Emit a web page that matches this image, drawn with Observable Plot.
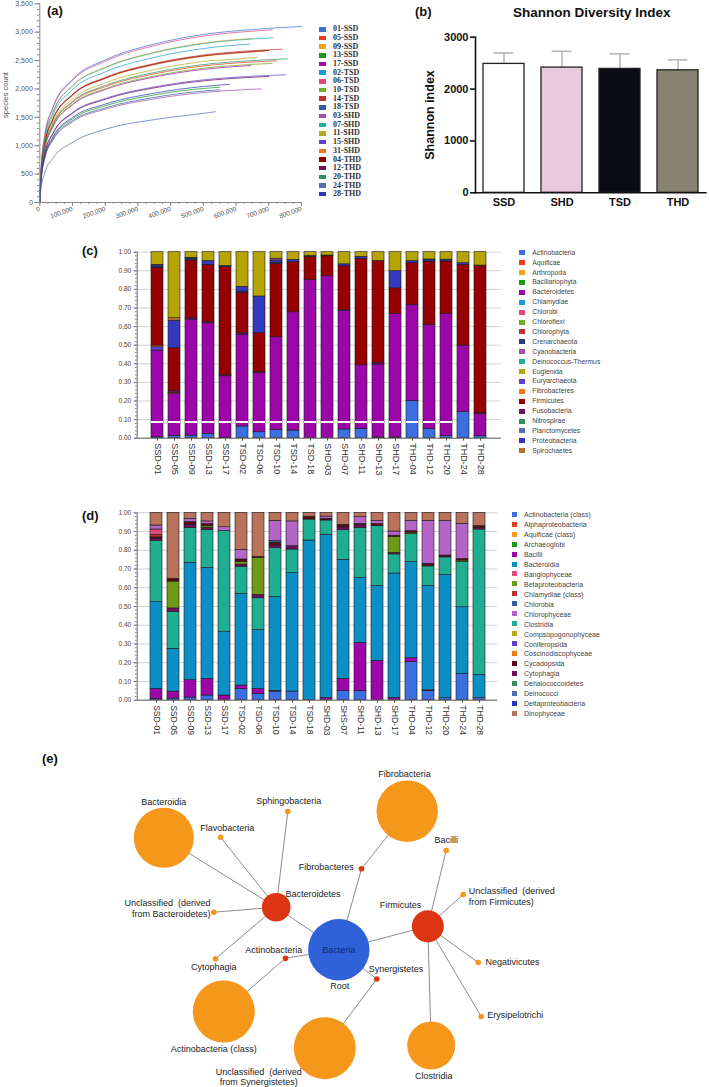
<!DOCTYPE html>
<html><head><meta charset="utf-8">
<script src="https://cdn.jsdelivr.net/npm/d3@7"></script>
<script src="https://cdn.jsdelivr.net/npm/@observablehq/plot@0.6"></script>
<style>
body{margin:0;background:#fff;}
#root{position:relative;width:709px;height:1087px;overflow:hidden;font-family:"Liberation Sans",Arial,sans-serif;background:#fff;}
</style></head><body><div id="root"></div>
<script>
// ---------------- DATA ----------------
// (a) rarefaction
const samples = ["01-SSD","05-SSD","09-SSD","13-SSD","17-SSD","02-TSD","06-TSD","10-TSD","14-TSD","18-TSD","03-SHD","07-SHD","11-SHD","15-SHD","31-SHD","04-THD","12-THD","20-THD","24-THD","28-THD"];
const sampleColors = ["#3a6fd8","#e8401c","#f5a01a","#1a9a1a","#a010a8","#1aa0d0","#e04880","#70b020","#c03030","#3060a0","#a050a8","#20b0a0","#b8a820","#6040d0","#f07818","#900000","#701060","#309060","#5070b0","#2838b8"];
const rareX = [0, 3000, 15000, 40000, 100000, 200000, 350000, 500000, 650000];
const rareEndX = [800000,724000,650000,550000,644000,642000,711000,710000,741000,550000,677000,714000,665000,751000,690000,700000,700000,757000,537000,580000];
const r01SSD = [0,496,1178,1674,2170,2511,2790,2960,3047,3100];
const r05SSD = [0,403,957,1360,1763,2040,2266,2405,2475,2495];
const r09SSD = [0,470,1117,1588,2058,2381,2646,2808,2890];
const r13SSD = [0,337,800,1136,1473,1704,1894,2009,2030];
const r17SSD = [0,393,933,1326,1719,1989,2210,2345,2412];
const r02TSD = [0,454,1079,1534,1988,2300,2556,2712,2790];
const r06TSD = [0,491,1167,1658,2149,2487,2763,2932,3018,3040];
const r10TSD = [0,396,941,1337,1733,2005,2228,2364,2433,2450];
const r14TSD = [0,435,1034,1469,1904,2203,2448,2598,2674,2700];
const r18TSD = [0,329,782,1111,1440,1666,1851,1964,1985];
const r03SHD = [0,324,771,1095,1420,1643,1825,1937,1994,2000];
const r07SHD = [0,469,1113,1582,2051,2373,2637,2798,2880,2900];
const r11SHD = [0,416,988,1404,1820,2106,2340,2483,2550,2560];
const r15SHD = [0,362,860,1221,1583,1832,2036,2160,2224,2250];
const r31SHD = [0,432,1025,1456,1888,2185,2427,2576,2651,2665];
const r04THD = [0,433,1028,1461,1894,2191,2435,2583,2659,2680];
const r12THD = [0,359,852,1211,1570,1817,2019,2142,2205,2220];
const r20THD = [0,407,966,1373,1780,2060,2289,2429,2500,2530];
const r24THD = [0,200,520,780,1060,1290,1460,1570,1600];
const r28THD = [0,342,813,1156,1498,1733,1926,2044,2080];
const rareSeries = [r01SSD,r05SSD,r09SSD,r13SSD,r17SSD,r02TSD,r06TSD,r10TSD,r14TSD,r18TSD,r03SHD,r07SHD,r11SHD,r15SHD,r31SHD,r04THD,r12THD,r20THD,r24THD,r28THD];
const yTicksA = [0,500,1000,1500,2000,2500,3000,3500];
const xTicksA = [0,100000,200000,300000,400000,500000,600000,700000,800000];

// (b) Shannon
const groups = ["SSD","SHD","TSD","THD"];
const shannonMean = [2485,2414,2389,2362];
const shannonSD = [212,314,289,201];
const groupColors = ["#ffffff","#e8cadb","#0b0b14","#858271"];
const yTicksB = [0,1000,2000,3000];

// (c) phylum composition
const barSamples = ["SSD-01","SSD-05","SSD-09","SSD-13","SSD-17","TSD-02","TSD-06","TSD-10","TSD-14","TSD-18","SHD-03","SHD-07","SHD-11","SHD-13","SHD-17","THD-04","THD-12","THD-20","THD-24","THD-28"];
const phylumLegend = ["Actinobacteria","Aquificae","Arthropoda","Bacillariophyta","Bacteroidetes","Chlamydiae","Chlorobi","Chloroflexi","Chlorophyta","Crenarchaeota","Cyanobacteria","Deinococcus-Thermus","Euglenida","Euryarchaeota","Fibrobacteres","Firmicutes","Fusobacteria","Nitrospirae","Planctomycetes","Proteobacteria","Spirochaetes"];
const phylumColors = ["#3b6fe0","#e8401c","#f5a01a","#1a9a1a","#9c06a8","#1aa0d0","#e04880","#70b020","#c03030","#2a3f80","#a050a8","#20b0a0","#b5a404","#6040d0","#f07818","#960000","#701060","#309060","#5070b0","#3438bc","#b07030"];
const cActinobacteria = [0.005,0.011,0.014,0.023,0.002,0.063,0.032,0.045,0.041,0,0,0.047,0.05,0.004,0.004,0.199,0.05,0.011,0.14,0.011];
const cBacteroidetes  = [0.466,0.227,0.624,0.595,0.331,0.493,0.317,0.498,0.636,0.851,0.871,0.636,0.342,0.392,0.664,0.518,0.559,0.656,0.358,0.12];
const cEuryarchaeota  = [0.018,0,0,0,0,0,0,0,0,0,0,0,0,0,0,0,0,0,0,0];
const cFibrobacteres  = [0.009,0.006,0,0,0,0,0,0,0,0,0,0,0,0,0,0,0,0,0,0];
const cFusobacteria   = [0,0.009,0.007,0.007,0.006,0.009,0.006,0,0,0,0,0.007,0,0.009,0,0,0,0,0,0.005];
const cFirmicutes     = [0.418,0.231,0.31,0.307,0.582,0.216,0.21,0.394,0.269,0.124,0.107,0.235,0.572,0.548,0.138,0.226,0.341,0.283,0.434,0.789];
const cCrenarchaeota  = [0.007,0,0.009,0,0.005,0.008,0,0.006,0,0.005,0.004,0,0,0,0,0,0.011,0.01,0,0.003];
const cProteobacteria = [0.009,0.147,0.006,0.02,0,0.025,0.197,0.012,0.013,0,0,0.01,0.011,0,0.092,0.01,0,0,0.009,0];
const cSpirochaetes   = [0,0.014,0,0,0,0,0,0,0,0,0,0,0,0,0,0,0,0,0,0];
const cCyanobacteria  = [0,0,0,0,0,0,0,0.01,0,0,0,0,0,0,0,0,0,0,0,0];
const cEuglenida      = [0.068,0.355,0.03,0.048,0.074,0.186,0.238,0.035,0.041,0.02,0.018,0.065,0.025,0.047,0.102,0.047,0.039,0.04,0.059,0.072];
const yTicksC = [0,0.1,0.2,0.3,0.4,0.5,0.6,0.7,0.8,0.9,1.0];

// (d) class composition
const barSamplesD = ["SSD-01","SSD-05","SSD-09","SSD-13","SSD-17","TSD-02","TSD-06","TSD-10","TSD-14","TSD-18","SHD-03","SHS-07","SHD-11","SHD-13","SHD-17","THD-04","THD-12","THD-20","THD-24","THD-28"];
const classLegend = ["Actinobacteria (class)","Alphaproteobacteria","Aquificae (class)","Archaeoglobi","Bacilli","Bacteroidia","Bangiophyceae","Betaproteobacteria","Chlamydiae (class)","Chlorobia","Chlorophyceae","Clostridia","Compsopogonophyceae","Coniferopsida","Coscinodiscophyceae","Cycadopsida","Cytophagia","Dehalococcoidetes","Deinococci","Deltaproteobacteria","Dinophyceae"];
const classColors = ["#3b6fe0","#e8401c","#f5a01a","#1a9a1a","#9c06a8","#0b8fc4","#e04880","#6e9a18","#c03030","#3060a0","#b565c8","#1fae92","#b8a820","#6040d0","#f07818","#5a0a10","#701060","#309060","#5070b0","#2838b8","#b8735a"];
const dActinobacteria = [0.007,0.009,0.014,0.025,0,0.06,0.034,0.046,0.046,0,0,0.048,0.048,0,0,0.203,0.048,0.011,0.141,0.012];
const dBacilli        = [0.053,0.037,0.093,0.089,0.025,0.018,0.026,0.004,0,0,0.012,0.066,0.258,0.21,0.012,0.021,0.005,0,0,0];
const dBacteroidia    = [0.463,0.228,0.626,0.592,0.338,0.49,0.314,0.5,0.632,0.852,0.871,0.635,0.345,0.399,0.664,0.513,0.556,0.658,0.355,0.123];
const dClostridia     = [0.328,0.196,0.185,0.201,0.539,0.144,0.17,0.261,0.126,0.112,0.076,0.158,0.267,0.32,0.102,0.149,0.105,0.093,0.241,0.776];
const dCytophagia     = [0.012,0.02,0.018,0.013,0,0.012,0.018,0.015,0.018,0,0,0.015,0.015,0,0.008,0,0,0,0,0.008];
const dBetaproteobacteria = [0,0.143,0,0.008,0,0.014,0.198,0,0,0,0,0,0,0,0.086,0.008,0,0,0.008,0];
const dCycadopsida    = [0.006,0.015,0.014,0.012,0,0.013,0.005,0.014,0,0.015,0.009,0.014,0.008,0.011,0.006,0.008,0.014,0.01,0.009,0.01];
const dChlamydiae     = [0.012,0,0,0,0,0,0,0,0,0,0,0,0,0,0,0,0,0,0,0];
const dBangiophyceae  = [0.03,0,0,0,0,0,0,0,0,0,0,0,0,0,0,0,0,0,0,0];
const dChlorobia      = [0,0,0,0,0,0,0,0.009,0,0,0,0,0,0,0,0,0,0,0,0];
const dChlorophyceae  = [0.021,0,0.018,0.014,0.021,0.051,0,0.108,0.132,0,0.012,0,0.036,0.016,0.022,0.054,0.229,0.184,0.187,0];
const dDinophyceae    = [0.068,0.352,0.032,0.046,0.077,0.198,0.235,0.043,0.046,0.021,0.02,0.064,0.023,0.044,0.1,0.044,0.043,0.044,0.059,0.071];

// (e) network
const nodeId    = ["Bacteria","Bacteroidetes","Firmicutes","Fibrobacteres","Actinobacteria","Synergistetes","Bacteroidia","Flavobacteria","Sphingobacteria","UnclBact","Cytophagia","ActinoClass","UnclSyn","Fibrobacteria","Bacilli","UnclFirm","Negativicutes","Erysipelotrichi","Clostridia"];
const nodeLevel = [0,1,1,1,1,1,2,2,2,2,2,2,2,2,2,2,2,2,2];
const nodeX     = [338.3,275.7,427.3,361,285,376.3,163.3,220,287.3,213.3,215,223.3,324.3,406.7,445.7,462.7,477.7,480.7,430.7];
const nodeY     = [949.3,906.7,925.7,868.3,957.7,978.5,837.3,836.7,811,911.7,958.3,1011,1047.7,810.7,850,894,962,1016,1045];
const nodeR     = [30.7,14.3,16,2.8,2.8,2.8,30,2.8,2.8,2.8,2.8,31,31,30.7,2.8,2.8,2.8,2.8,24];
const linkSource = ["Bacteria","Bacteria","Bacteria","Bacteria","Bacteria","Bacteroidetes","Bacteroidetes","Bacteroidetes","Bacteroidetes","Bacteroidetes","Actinobacteria","Synergistetes","Fibrobacteres","Firmicutes","Firmicutes","Firmicutes","Firmicutes","Firmicutes"];
const linkTarget = ["Bacteroidetes","Firmicutes","Fibrobacteres","Actinobacteria","Synergistetes","Bacteroidia","Flavobacteria","Sphingobacteria","UnclBact","Cytophagia","ActinoClass","UnclSyn","Fibrobacteria","Bacilli","UnclFirm","Negativicutes","Erysipelotrichi","Clostridia"];
const levelColors = ["#2f62d8","#dd3413","#f5971b"];
const labelText   = ["Bacteria","Root","Bacteroidia","Flavobacteria","Sphingobacteria","Bacteroidetes","Unclassified  (derived\nfrom Bacteroidetes)","Cytophagia","Actinobacteria","Fibrobacteres","Synergistetes","Actinobacteria (class)","Unclassified  (derived\nfrom Synergistetes)","Fibrobacteria","Bacilli","Unclassified  (derived\nfrom Firmicutes)","Firmicutes","Negativicutes","Erysipelotrichi","Clostridia"];
const labelX      = [338.3,339.3,163.3,226.7,288.3,285,210,213.3,301.7,353.3,368.3,213.3,258.3,404,445.7,468.3,400,485,486.7,433.3];
const labelY      = [949.3,985,800.7,826.7,800,892.7,907.3,965.7,949.3,865.7,967.7,1048.3,1076,773.3,839,895.5,904.3,961,1014.3,1075];
const labelAnchor = ["middle","middle","middle","middle","middle","start","end","middle","end","end","start","middle","middle","middle","middle","start","middle","start","start","middle"];
const labelColor  = ["#13286e","#222","#222","#222","#222","#222","#222","#222","#222","#222","#222","#222","#222","#222","#222","#222","#222","#222","#222","#222"];

// ---------------- HELPERS ----------------
const root = document.getElementById("root");
const baseStyle = {fontFamily: "'Liberation Sans', Arial, sans-serif", background: "transparent", overflow: "visible"};
function place(el, left, top){ const d=document.createElement("div"); d.style.cssText=`position:absolute;left:${left}px;top:${top}px;`; d.appendChild(el); root.appendChild(d); return d; }
function txt(s, left, top, css){ const d=document.createElement("div"); d.textContent=s; d.style.cssText="position:absolute;white-space:nowrap;line-height:1;"+css; d.style.left=left+"px"; d.style.top=top+"px"; root.appendChild(d); return d; }
function centered(s, cx, cy, rot, css){ const d=txt(s,cx,cy,css); d.style.transform=`translate(-50%,-50%) rotate(${rot}deg)`; return d; }
function legend(names, colors, sx, sw, sh, tx, y0, dy, css){
  names.forEach((n,i)=>{
    const y=y0+i*dy;
    const sq=document.createElement("div");
    sq.style.cssText=`position:absolute;left:${sx}px;top:${y-sh/2}px;width:${sw}px;height:${sh}px;background:${colors[i]}`;
    root.appendChild(sq);
    const t=txt(n, tx, y, css); t.style.transform="translateY(-50%)";
  });
}
const panelCss = "font-weight:bold;font-size:13px;color:#111;font-family:'Liberation Sans',Arial,sans-serif;";

// ---------------- (a) ----------------
const rareRows = [];
rareSeries.forEach((arr,i)=>arr.forEach((v,j)=>rareRows.push({sample:samples[i], x: j<arr.length-1 ? rareX[j] : rareEndX[i], y:v})));
const plotA = Plot.plot({
  width:310, height:220, marginLeft:39.3, marginRight:9, marginTop:3.3, marginBottom:18,
  style: baseStyle,
  x:{domain:[0,800000]}, y:{domain:[0,3500]},
  color:{domain:samples, range:sampleColors},
  marks:[
    Plot.line(rareRows,{x:"x",y:"y",z:"sample",stroke:"sample",strokeWidth:0.9,strokeOpacity:0.8,curve:"monotone-x"}),
    Plot.ruleX([0],{stroke:"#8a8a8a"}),
    Plot.ruleY([0],{stroke:"#8a8a8a"}),
    Plot.axisY(yTicksA,{tickFormat:d3.format(","),tickSize:5,tickPadding:2,fontSize:7,stroke:"#8a8a8a",fill:"#555",label:null}),
    Plot.axisY(d3.range(0,3501,100),{tickSize:2.5,tickFormat:()=>"",stroke:"#8a8a8a",label:null}),
    Plot.axisX(xTicksA,{tickFormat:d3.format(","),tickSize:4,tickPadding:2,fontSize:6.5,tickRotate:-20,stroke:"#8a8a8a",fill:"#555",label:null}),
    Plot.axisX(d3.range(0,800001,25000),{tickSize:2,tickFormat:()=>"",stroke:"#8a8a8a",label:null})
  ]
});
place(plotA,0,0);
txt("(a)",47,4,panelCss);
centered("species count",6,95,-90,"font-size:7.5px;color:#555;");
legend(samples, sampleColors, 318.5, 7, 4.5, 333, 29.3, 8.68, "font-weight:bold;font-size:8px;font-family:'Liberation Serif',serif;color:#333;");

// ---------------- (b) ----------------
const shRows = groups.map((g,i)=>({group:g, mean:shannonMean[i], top:shannonMean[i]+shannonSD[i]}));
const plotB = Plot.plot({
  width:349, height:215, marginLeft:115, marginRight:2.3, marginTop:36.7, marginBottom:22.7,
  style: baseStyle,
  x:{domain:groups, paddingInner:0.29, paddingOuter:0.12},
  y:{domain:[0,3000]},
  color:{domain:groups, range:groupColors},
  marks:[
    Plot.ruleX(shRows,{x:"group",y1:"mean",y2:"top",stroke:"#b8b8b8",strokeWidth:1.6}),
    Plot.tickY(shRows,{x:"group",y:"top",stroke:"#b8b8b8",strokeWidth:1.6,insetLeft:10.5,insetRight:10.5}),
    Plot.barY(shRows,{x:"group",y:"mean",fill:"group",stroke:"#222",strokeWidth:1.3}),
    Plot.ruleY([0],{stroke:"#111",strokeWidth:1.6}),
    Plot.frame({anchor:"left",stroke:"#111",strokeWidth:1.6}),
    Plot.axisY(yTicksB,{tickFormat:d=>String(d),tickSize:5,tickPadding:2,fontSize:11,fontWeight:"bold",stroke:"#111",strokeWidth:1.6,fill:"#111",label:null}),
    Plot.axisX({tickSize:0,tickPadding:5,fontSize:11,fontWeight:"bold",fill:"#111",label:null})
  ]
});
place(plotB,360,0);
txt("(b)",415,5,panelCss);
centered("Shannon Diversity Index",591.7,13.3,0,"font-weight:bold;font-size:13.5px;color:#111;");
centered("Shannon  index",430,115,-90,"font-weight:bold;font-size:12.5px;color:#111;");

// ---------------- (c) ----------------
const phylumStack = [["Actinobacteria",cActinobacteria],["Bacteroidetes",cBacteroidetes],["Euryarchaeota",cEuryarchaeota],["Fibrobacteres",cFibrobacteres],["Fusobacteria",cFusobacteria],["Firmicutes",cFirmicutes],["Crenarchaeota",cCrenarchaeota],["Proteobacteria",cProteobacteria],["Spirochaetes",cSpirochaetes],["Cyanobacteria",cCyanobacteria],["Euglenida",cEuglenida]];
const rowsC = [];
phylumStack.forEach(([name,arr])=>arr.forEach((v,i)=>{ if(v>0) rowsC.push({sample:barSamples[i], taxon:name, value:v}); }));
const plotC = Plot.plot({
  width:510, height:240, marginLeft:136.7, marginRight:9.3, marginTop:11.7, marginBottom:42.3,
  style: baseStyle,
  x:{domain:barSamples, paddingInner:0.3, paddingOuter:0.28},
  y:{domain:[0,1]},
  color:{domain:phylumLegend, range:phylumColors},
  marks:[
    Plot.gridY(yTicksC,{stroke:"#bdbdbd",strokeOpacity:1,strokeWidth:0.7}),
    Plot.barY(rowsC,{x:"sample",y:"value",fill:"taxon",order:phylumStack.map(d=>d[0]),stroke:"#1a1a1a",strokeWidth:0.6}),
    Plot.tickY(barSamples.slice(0,18),{x:d=>d,y:()=>0.087,stroke:"#fff",strokeWidth:2}),
    Plot.frame({anchor:"left",stroke:"#666"}),
    Plot.ruleY([0],{stroke:"#666"}),
    Plot.axisY(yTicksC,{tickFormat:d3.format(".2f"),tickSize:3,tickPadding:3,fontSize:6.5,stroke:"#666",fill:"#444",label:null}),
    Plot.axisY(d3.range(0,1.0001,0.02),{tickSize:1.8,tickFormat:()=>"",stroke:"#888",label:null}),
    Plot.axisX({tickRotate:90,fontSize:9,tickSize:3,tickPadding:2,stroke:"#555",fill:"#333",label:null})
  ]
});
place(plotC,0,240);
txt("(c)",82,244,panelCss);
legend(phylumLegend, phylumColors, 519.3, 5.7, 5, 532.3, 252.7, 9.9, "font-size:6.8px;color:#444;");

// ---------------- (d) ----------------
const classStack = [["Actinobacteria (class)",dActinobacteria],["Bacilli",dBacilli],["Bacteroidia",dBacteroidia],["Clostridia",dClostridia],["Cytophagia",dCytophagia],["Betaproteobacteria",dBetaproteobacteria],["Cycadopsida",dCycadopsida],["Chlamydiae (class)",dChlamydiae],["Bangiophyceae",dBangiophyceae],["Chlorobia",dChlorobia],["Chlorophyceae",dChlorophyceae],["Dinophyceae",dDinophyceae]];
const rowsD = [];
classStack.forEach(([name,arr])=>arr.forEach((v,i)=>{ if(v>0) rowsD.push({sample:barSamplesD[i], taxon:name, value:v}); }));
const plotD = Plot.plot({
  width:510, height:245, marginLeft:136.7, marginRight:12.7, marginTop:12.3, marginBottom:45.3,
  style: baseStyle,
  x:{domain:barSamplesD, paddingInner:0.31, paddingOuter:0.37},
  y:{domain:[0,1]},
  color:{domain:classLegend, range:classColors},
  marks:[
    Plot.gridY(yTicksC,{stroke:"#bdbdbd",strokeOpacity:1,strokeWidth:0.7}),
    Plot.barY(rowsD,{x:"sample",y:"value",fill:"taxon",order:classStack.map(d=>d[0]),stroke:"#1a1a1a",strokeWidth:0.6}),
    Plot.frame({anchor:"left",stroke:"#666"}),
    Plot.ruleY([0],{stroke:"#666"}),
    Plot.axisY(yTicksC,{tickFormat:d3.format(".2f"),tickSize:3,tickPadding:3,fontSize:6.5,stroke:"#666",fill:"#444",label:null}),
    Plot.axisY(d3.range(0,1.0001,0.02),{tickSize:1.8,tickFormat:()=>"",stroke:"#888",label:null}),
    Plot.axisX({tickRotate:90,fontSize:8.5,tickSize:3,tickPadding:2,stroke:"#555",fill:"#333",label:null})
  ]
});
place(plotD,0,500);
txt("(d)",82,509,panelCss);
legend(classLegend, classColors, 511.7, 5.7, 5, 524, 514.3, 9.94, "font-size:7px;color:#444;");

// ---------------- (e) ----------------
const nodes = nodeId.map((id,i)=>({id, x:nodeX[i], y:nodeY[i], r:nodeR[i], fill:levelColors[nodeLevel[i]]}));
const byId = new Map(nodes.map(n=>[n.id,n]));
const links = linkSource.map((s,i)=>({a:byId.get(s), b:byId.get(linkTarget[i])}));
const labels = labelText.map((t,i)=>({text:t, x:labelX[i], y:labelY[i], anchor:labelAnchor[i], color:labelColor[i]}));
const plotE = Plot.plot({
  width:709, height:337, marginLeft:0, marginRight:0, marginTop:0, marginBottom:0,
  style: baseStyle,
  x:{domain:[0,709], range:[0,709], axis:null},
  y:{domain:[750,1087], range:[0,337], axis:null},
  r:{type:"identity"},
  marks:[
    Plot.link(links,{x1:d=>d.a.x,y1:d=>d.a.y,x2:d=>d.b.x,y2:d=>d.b.y,stroke:"#8c8c8c",strokeWidth:1}),
    Plot.dot(nodes,{x:"x",y:"y",r:"r",fill:"fill"}),
    ...["start","middle","end"].map(a=>Plot.text(labels.filter(l=>l.anchor===a),{x:"x",y:"y",text:"text",fill:"color",textAnchor:a,fontSize:9,lineHeight:1.2}))
  ]
});
place(plotE,0,750);
txt("(e)",42,752,panelCss);
</script></body></html>
